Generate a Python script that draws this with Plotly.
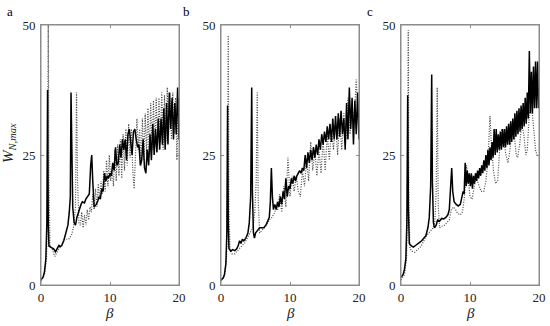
import plotly.graph_objects as go

# ---------------- data ----------------
beta_a_solid = [0, 0.3, 0.5, 0.7, 0.85, 0.95, 1.05, 1.15, 1.5, 1.8, 2.1, 2.4, 2.6, 2.8, 3.0, 3.3, 3.6, 3.9,
                4.1, 4.25, 4.35, 4.45, 4.6, 4.8, 5.0, 5.2, 5.5, 5.8, 6.0, 6.3, 6.5, 6.8, 7.0, 7.2, 7.35, 7.5,
                7.7, 8.0, 8.2, 8.4, 8.6, 8.8, 9.0, 9.2, 9.4, 9.6, 9.8, 10.0, 10.2, 10.4, 10.6, 10.8, 11.0,
                11.2, 11.4, 11.6, 11.8, 12.0, 12.2, 12.4, 12.6, 12.8, 13.0, 13.2, 13.4, 13.6, 13.8, 14.0,
                14.2, 14.4, 14.6, 14.8, 15.0, 15.2, 15.4, 15.6, 15.8, 16.0, 16.2, 16.4, 16.6, 16.8, 17.0,
                17.2, 17.4, 17.6, 17.8, 18.0, 18.2, 18.4, 18.6, 18.8, 19.0, 19.2, 19.4, 19.6, 19.8, 20.0]
w_a_solid = [1.0, 1.5, 2.5, 5, 12, 37.5, 12, 7.5, 7.2, 7.0, 6.4, 7.2, 7.6, 7.4, 7.6, 8.5, 10, 11.5,
             14, 17, 37, 22, 15, 12, 11.5, 13, 14.5, 15.5, 16, 15.8, 16.5, 17, 17.5, 23, 25, 20,
             15, 15.5, 16, 17, 16.5, 18.5, 18, 21.5, 20, 21, 20.5, 21.5, 21, 23.5, 22, 26.5, 23,
             23.5, 27, 24.5, 28, 26, 28, 24, 29, 30, 27, 25, 29.5, 30, 28, 26.5,
             27, 23, 24, 28, 22.5, 21.5, 26, 23, 29, 24, 31, 25, 30, 25.5, 32,
             26, 32, 27, 34, 26, 35, 27, 37, 30, 36, 28, 35, 29, 38, 28]

beta_a_dot = [0, 0.5, 0.8, 0.95, 1.05, 1.15, 1.3, 1.6, 2.0, 2.3, 2.6, 3.0, 3.3, 3.7, 4.0, 4.4, 4.7, 5.0,
              5.15, 5.3, 5.5, 5.7, 5.9, 6.1, 6.3, 6.5, 6.7, 6.9, 7.1, 7.3, 7.5, 7.7, 7.9, 8.1, 8.3, 8.5,
              8.7, 8.9, 9.1, 9.3, 9.5, 9.7, 9.9, 10.1, 10.3, 10.5, 10.7, 10.9, 11.1, 11.3, 11.5, 11.7,
              11.9, 12.1, 12.3, 12.5, 12.7, 12.9, 13.1, 13.3, 13.5, 13.7, 13.9, 14.1, 14.3, 14.5, 14.7,
              14.9, 15.1, 15.3, 15.5, 15.7, 15.9, 16.1, 16.3, 16.5, 16.7, 16.9, 17.1, 17.3, 17.5, 17.7,
              17.9, 18.1, 18.3, 18.5, 18.7, 18.9, 19.1, 19.3, 19.5, 19.7, 19.9, 20.0]
w_a_dot = [0.8, 2, 5, 15, 52, 20, 7.5, 7, 5.5, 6.2, 7, 7.5, 8.8, 8.8, 8.8, 9.5, 11, 15,
           37, 20, 12, 11.5, 14, 11, 13.5, 11.5, 14.5, 12.5, 15, 14, 17.5, 14.5, 18.5, 15, 19.5, 16.5,
           20, 17.5, 22, 18, 24, 19, 25, 20, 22, 19, 26, 20, 27, 21, 28, 20.5,
           29, 22, 30, 23, 31, 24.5, 30, 22, 18.5, 25, 32, 26, 30, 23, 32,
           24, 33, 25, 34, 25, 35, 26, 35.5, 26.5, 36, 27, 36, 27.5, 37, 26,
           36.5, 27.5, 38, 29, 37, 28, 37, 29, 36, 24, 36, 28]

beta_b_solid = [0, 0.3, 0.5, 0.7, 0.85, 0.95, 1.05, 1.15, 1.4, 1.7, 2.0, 2.3, 2.5, 2.7, 2.9, 3.1, 3.3, 3.6,
                3.9, 4.1, 4.3, 4.45, 4.55, 4.7, 4.85, 5.0, 5.3, 5.6, 5.9, 6.2, 6.5, 6.8, 7.0, 7.15, 7.3,
                7.45, 7.6, 7.8, 8.0, 8.2, 8.4, 8.6, 8.8, 9.0, 9.2, 9.4, 9.6, 9.8, 10.0, 10.2, 10.4, 10.6,
                10.8, 11.0, 11.2, 11.4, 11.6, 11.8, 12.0, 12.2, 12.4, 12.6, 12.8, 13.0, 13.2, 13.4, 13.6,
                13.8, 14.0, 14.2, 14.4, 14.6, 14.8, 15.0, 15.2, 15.4, 15.6, 15.8, 16.0, 16.2, 16.4, 16.6,
                16.8, 17.0, 17.2, 17.4, 17.6, 17.8, 18.0, 18.2, 18.4, 18.6, 18.8, 19.0, 19.2, 19.4, 19.6,
                19.8, 20.0]
w_b_solid = [1.0, 1.3, 2, 4, 10, 34.5, 12, 7, 6.5, 6.8, 6.6, 7, 7.6, 8.5, 8.0, 8.8, 8.5, 9,
             10, 12, 17, 38, 18, 10, 9, 10, 10.5, 11, 11, 11, 11.5, 12.5, 13, 16, 22.5,
             17, 14.5, 15.5, 14.5, 16, 15, 17, 15.5, 18, 16.5, 20.5, 17, 19, 18.5, 20.5, 19.5, 21,
             20, 21, 21.5, 22, 21.5, 22.5, 22, 25, 22.5, 25.5, 23.5, 26, 24, 26.5, 24.5,
             27, 25, 28, 26, 29, 27, 29.5, 27.5, 30.5, 28, 31, 27.5, 32, 28, 32.5,
             28, 33, 28.5, 33.5, 29, 32, 26, 35, 28, 38, 30, 36, 27, 35.5, 29,
             37, 28]

beta_b_dot = [0, 0.5, 0.8, 0.95, 1.05, 1.15, 1.3, 1.6, 2.0, 2.3, 2.6, 3.0, 3.4, 3.8, 4.2, 4.6, 4.9, 5.1,
              5.25, 5.4, 5.6, 5.9, 6.2, 6.6, 7.0, 7.4, 7.8, 8.0, 8.2, 8.5, 8.8, 9.1, 9.4, 9.7, 10.0,
              10.3, 10.6, 10.9, 11.2, 11.5, 11.8, 12.1, 12.4, 12.7, 13.0, 13.3, 13.6, 13.9, 14.2, 14.5,
              14.8, 15.1, 15.4, 15.7, 16.0, 16.3, 16.6, 16.9, 17.2, 17.5, 17.8, 18.1, 18.4, 18.7, 19.0,
              19.3, 19.6, 19.8, 20.0]
w_b_dot = [0.8, 1.8, 5, 20, 48, 15, 7, 6, 6, 6.5, 7, 7.5, 8, 9, 10, 11, 14, 20,
           37, 16, 10, 10.5, 11, 11.5, 12.5, 13, 14, 15, 14.5, 17.5, 14, 19, 15, 24.5, 17,
           21, 18, 21, 18, 17, 22, 19, 24, 20, 27.5, 22, 26, 21, 26, 21.5,
           28, 22, 29, 24, 30, 26, 31, 25, 32, 26, 33, 28, 36, 29, 34,
           32, 39.5, 33, 29]

beta_c_solid = [0, 0.3, 0.5, 0.7, 0.85, 0.97, 1.07, 1.2, 1.5, 1.8, 2.1, 2.4, 2.7, 3.0, 3.3, 3.6, 3.9, 4.1,
                4.3, 4.45, 4.55, 4.7, 4.85, 5.1, 5.3, 5.6, 5.9, 6.2, 6.5, 6.8, 7.0, 7.2, 7.35, 7.5, 7.7,
                8.0, 8.3, 8.6, 8.8, 9.0, 9.15, 9.3, 9.45, 9.6, 9.75, 9.9, 10.05, 10.2, 10.35, 10.5, 10.65,
                10.8, 10.95, 11.1, 11.25, 11.4, 11.55, 11.7, 11.85, 12.0, 12.15, 12.3, 12.45, 12.6, 12.75,
                12.9, 13.05, 13.2, 13.35, 13.5, 13.65, 13.8, 13.95, 14.1, 14.25, 14.4, 14.55, 14.7, 14.85,
                15.0, 15.15, 15.3, 15.45, 15.6, 15.75, 15.9, 16.05, 16.2, 16.35, 16.5, 16.65, 16.8, 16.95,
                17.1, 17.25, 17.4, 17.55, 17.7, 17.85, 18.0, 18.15, 18.3, 18.45, 18.6, 18.75, 18.9, 19.05,
                19.2, 19.35, 19.5, 19.65, 19.8, 19.95, 20.0]
w_c_solid = [1.5, 2, 3, 5, 12, 36.5, 15, 8, 7.5, 7.3, 7.6, 8, 8.2, 8.5, 9, 9.5, 11, 13,
             19, 40.5, 20, 12, 11, 11.5, 12.5, 12.3, 12.8, 12.7, 13, 13.5, 14.5, 18, 22.5, 18, 16,
             15.5, 15.2, 15.5, 16.5, 18, 17.5, 23.5, 19, 22, 19.5, 21.5, 19, 21.5, 18.5, 21, 19.5,
             21.5, 20, 22, 20.5, 22.5, 21, 23, 21.5, 24, 22, 25, 22.5, 26, 23,
             26.5, 24, 27.5, 24.5, 30, 25, 30, 25.5, 29, 26, 29.5, 26, 30, 26.5,
             30, 26.5, 30.5, 27, 31, 27, 31.5, 27.5, 32, 28, 33, 28.5, 33.5, 29,
             34, 29.5, 34.5, 30, 35, 30.5, 36, 31, 37, 32, 45, 33, 41, 33,
             42, 34, 43, 34, 43, 34, 38]

beta_c_dot = [0, 0.5, 0.8, 0.95, 1.05, 1.15, 1.3, 1.6, 2.0, 2.4, 2.8, 3.2, 3.6, 4.0, 4.4, 4.7, 4.9, 5.1,
              5.25, 5.4, 5.6, 5.9, 6.3, 6.7, 7.0, 7.3, 7.6, 7.9, 8.2, 8.6, 8.9, 9.2, 9.5, 9.7, 10.0,
              10.3, 10.6, 10.9, 11.2, 11.6, 12.0, 12.3, 12.6, 12.9, 13.1, 13.4, 13.7, 14.0, 14.3, 14.6,
              14.9, 15.2, 15.5, 15.8, 16.1, 16.4, 16.7, 16.9, 17.2, 17.5, 17.8, 18.1, 18.3, 18.6, 18.9,
              19.2, 19.5, 19.7, 20.0]
w_c_dot = [1.0, 2, 5, 15, 49, 15, 7, 6.5, 6.3, 6.8, 7.3, 8.2, 9.3, 10, 10.5, 11, 12, 18,
           38, 15, 11, 11.3, 11.5, 12, 12.5, 14.5, 15, 14.5, 13.8, 13.5, 14, 17, 23, 21, 17,
           16.5, 19, 21, 19.5, 18, 18, 20, 24, 32.5, 27, 22, 19.5, 20, 26, 30,
           28, 25, 23.5, 26, 30, 29, 25, 24.5, 27, 31, 29, 25, 26, 33, 35,
           30, 26, 25, 25]

panels = [
    ("a", beta_a_solid, w_a_solid, beta_a_dot, w_a_dot),
    ("b", beta_b_solid, w_b_solid, beta_b_dot, w_b_dot),
    ("c", beta_c_solid, w_c_solid, beta_c_dot, w_c_dot),
]

x_ticks = [0, 10, 20]
y_ticks = [0, 25, 50]

# ---------------- figure ----------------
W, H = 550, 326
x_domains = [(41 / W, 179 / W), (221 / W, 359 / W), (401 / W, 539 / W)]
y_domain = (1 - 285 / H, 1 - 25 / H)
FONT = "Liberation Serif"
FRAME = "#8c8c8c"

fig = go.Figure()
annotations = []
shapes = []
for i, (lab, bs, ws, bd, wd) in enumerate(panels):
    xa = "x" if i == 0 else f"x{i+1}"
    ya = "y" if i == 0 else f"y{i+1}"
    fig.add_trace(go.Scatter(x=bd, y=wd, mode="lines", xaxis=xa, yaxis=ya,
                             line=dict(color="#4a4a4a", width=1.2, dash="1px,1.5px"),
                             showlegend=False, hoverinfo="skip"))
    fig.add_trace(go.Scatter(x=bs, y=ws, mode="lines", xaxis=xa, yaxis=ya,
                             line=dict(color="black", width=1.5),
                             showlegend=False, hoverinfo="skip"))
    axis_common = dict(showline=True, mirror="ticks", linecolor=FRAME, linewidth=1,
                       ticks="inside", ticklen=3, tickcolor=FRAME, tickwidth=1, showgrid=False,
                       zeroline=False, automargin=False,
                       tickfont=dict(family=FONT, size=13, color="#222222"))
    xkey = "xaxis" if i == 0 else f"xaxis{i+1}"
    ykey = "yaxis" if i == 0 else f"yaxis{i+1}"
    fig.update_layout({
        xkey: dict(domain=list(x_domains[i]), range=[0, 20], tickvals=x_ticks,
                   anchor=ya, ticklabelstandoff=0, **axis_common),
        ykey: dict(domain=list(y_domain), range=[0, 50], tickvals=y_ticks,
                   anchor=xa, ticklabelstandoff=2, **axis_common),
    })
    shapes.append(dict(type="rect", xref=f"{xa} domain", yref=f"{ya} domain",
                       x0=0, x1=1, y0=0, y1=1, line=dict(color=FRAME, width=1),
                       fillcolor="rgba(0,0,0,0)", layer="above"))
    x0, x1 = x_domains[i]
    annotations.append(dict(x=(x0 + x1) / 2, y=1 - 313 / H, xref="paper", yref="paper",
                            xanchor="center", yanchor="middle",
                            text="<i>β</i>", showarrow=False,
                            font=dict(family=FONT, size=15, color="#222222")))
    lab_x = [10, 186, 370][i]
    annotations.append(dict(x=lab_x / W, y=1 - 11 / H, xref="paper", yref="paper",
                            xanchor="center", yanchor="middle",
                            text=lab, showarrow=False,
                            font=dict(family=FONT, size=13, color="black")))

annotations.append(dict(x=9 / W, y=1 - 143 / H, xref="paper", yref="paper",
                        xanchor="center", yanchor="middle",
                        text="<i>W</i><sub><i>N,max</i></sub>", showarrow=False, textangle=-90,
                        font=dict(family=FONT, size=15, color="#222222")))

fig.update_layout(width=W, height=H,
                  margin=dict(l=0, r=0, t=0, b=0, pad=0, autoexpand=False),
                  font=dict(family=FONT),
                  paper_bgcolor="white", plot_bgcolor="white",
                  hovermode=False,
                  annotations=annotations, shapes=shapes)

fig.write_html("out.html", config={"displayModeBar": False, "staticPlot": True},
               post_script="document.body.style.margin='0';document.body.style.overflow='hidden';")
